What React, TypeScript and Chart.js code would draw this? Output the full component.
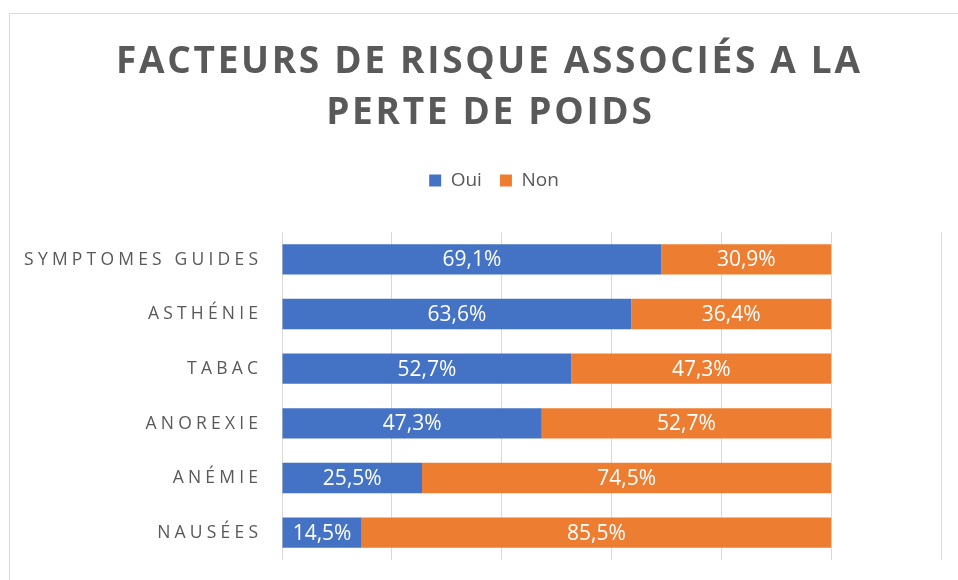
import { useEffect, useRef } from 'react';
import { Chart, registerables } from 'chart.js';

Chart.register(...registerables);

const titleLines = ['FACTEURS DE RISQUE ASSOCIÉS A LA', 'PERTE DE POIDS'];
const categories = ['SYMPTOMES GUIDES', 'ASTHÉNIE', 'TABAC', 'ANOREXIE', 'ANÉMIE', 'NAUSÉES'];
const seriesNames = ['Oui', 'Non'];
const ouiValues = [69.1, 63.6, 52.7, 47.3, 25.5, 14.5];
const nonValues = [30.9, 36.4, 47.3, 52.7, 74.5, 85.5];
const xAxisMin = 0;
const xAxisMax = 120;
const xAxisStep = 20;

const FONT = '"Open Sans", "Noto Sans", sans-serif';
const TEXT = '#595959';
const PAD_TOP = 153;
const PAD_LEFT = 47;

const fmt = (v: number) => v.toFixed(1).replace('.', ',') + '%';

const decorPlugin = {
  id: 'decor',
  beforeDraw(chart: any) {
    const ctx = chart.ctx as CanvasRenderingContext2D;
    ctx.save();
    ctx.strokeStyle = '#d9d9d9';
    ctx.lineWidth = 1;
    ctx.beginPath();
    ctx.moveTo(9.5, 580);
    ctx.lineTo(9.5, 13.5);
    ctx.lineTo(958, 13.5);
    ctx.stroke();
    ctx.restore();
  },
  afterDatasetsDraw(chart: any) {
    const ctx = chart.ctx as CanvasRenderingContext2D;
    ctx.save();
    ctx.fillStyle = '#ffffff';
    ctx.font = `21px ${FONT}`;
    ctx.textAlign = 'center';
    ctx.textBaseline = 'middle';
    chart.data.datasets.forEach((ds: any, di: number) => {
      const meta = chart.getDatasetMeta(di);
      meta.data.forEach((bar: any, i: number) => {
        const p = bar.getProps(['x', 'y', 'base'], true);
        ctx.fillText(fmt(ds.data[i]), (p.x + p.base) / 2, p.y + 1);
      });
    });
    ctx.restore();
  },
  afterDraw(chart: any) {
    const ctx = chart.ctx as any;
    // title
    ctx.save();
    ctx.fillStyle = TEXT;
    ctx.font = `bold 37px ${FONT}`;
    ctx.textAlign = 'center';
    ctx.textBaseline = 'alphabetic';
    ctx.letterSpacing = '2.7px';
    ctx.fillText(titleLines[0], 488 + 1.35, 72.5);
    ctx.fillText(titleLines[1], 489 + 1.35, 124);
    ctx.restore();
    // category labels
    ctx.save();
    ctx.fillStyle = TEXT;
    ctx.font = `17.5px ${FONT}`;
    ctx.textAlign = 'right';
    ctx.textBaseline = 'middle';
    ctx.letterSpacing = '4.2px';
    const y = chart.scales.y;
    categories.forEach((c, i) => {
      ctx.fillText(c, 258 + 4.2, y.getPixelForValue(i) + 0.5);
    });
    ctx.restore();
  },
};

export default function App() {
  const ref = useRef<HTMLCanvasElement>(null);
  useEffect(() => {
    document.body.style.margin = '0';
    const canvas = ref.current!;
    const chart = new Chart(canvas, {
      type: 'bar',
      data: {
        labels: categories,
        datasets: [
          { label: seriesNames[0], data: ouiValues, backgroundColor: '#4472C4', borderWidth: 0, barPercentage: 0.556, categoryPercentage: 1 },
          { label: seriesNames[1], data: nonValues, backgroundColor: '#ED7D31', borderWidth: 0, barPercentage: 0.556, categoryPercentage: 1 },
        ],
      },
      options: {
        indexAxis: 'y',
        responsive: false,
        animation: false,
        layout: { padding: { top: PAD_TOP, left: PAD_LEFT, right: 17, bottom: 20 } },
        plugins: {
          title: { display: false },
          tooltip: { enabled: false },
          legend: {
            display: true,
            position: 'top',
            labels: {
              color: TEXT,
              font: { family: FONT, size: 19 },
              boxWidth: 12,
              boxHeight: 12,
              padding: 18,
            },
          },
        },
        scales: {
          x: {
            position: 'top',
            stacked: true,
            min: xAxisMin,
            max: xAxisMax,
            ticks: { display: false, stepSize: xAxisStep },
            grid: { color: '#d9d9d9', lineWidth: 1, drawTicks: false },
            border: { display: false },
            afterFit(scale: any) {
              const lg = scale.chart.legend;
              const h = lg ? lg.height : 0;
              scale.height = Math.max(0, 232 - PAD_TOP - h);
            },
          },
          y: {
            stacked: true,
            ticks: { display: false },
            grid: { display: false },
            border: { display: false },
            afterFit(scale: any) {
              scale.width = 282 - PAD_LEFT;
            },
          },
        },
      },
      plugins: [decorPlugin],
    });
    return () => chart.destroy();
  }, []);
  return (
    <div style={{ position: 'absolute', left: 0, top: 0, width: 958, height: 580 }}>
      <canvas ref={ref} width={958} height={580} />
    </div>
  );
}
